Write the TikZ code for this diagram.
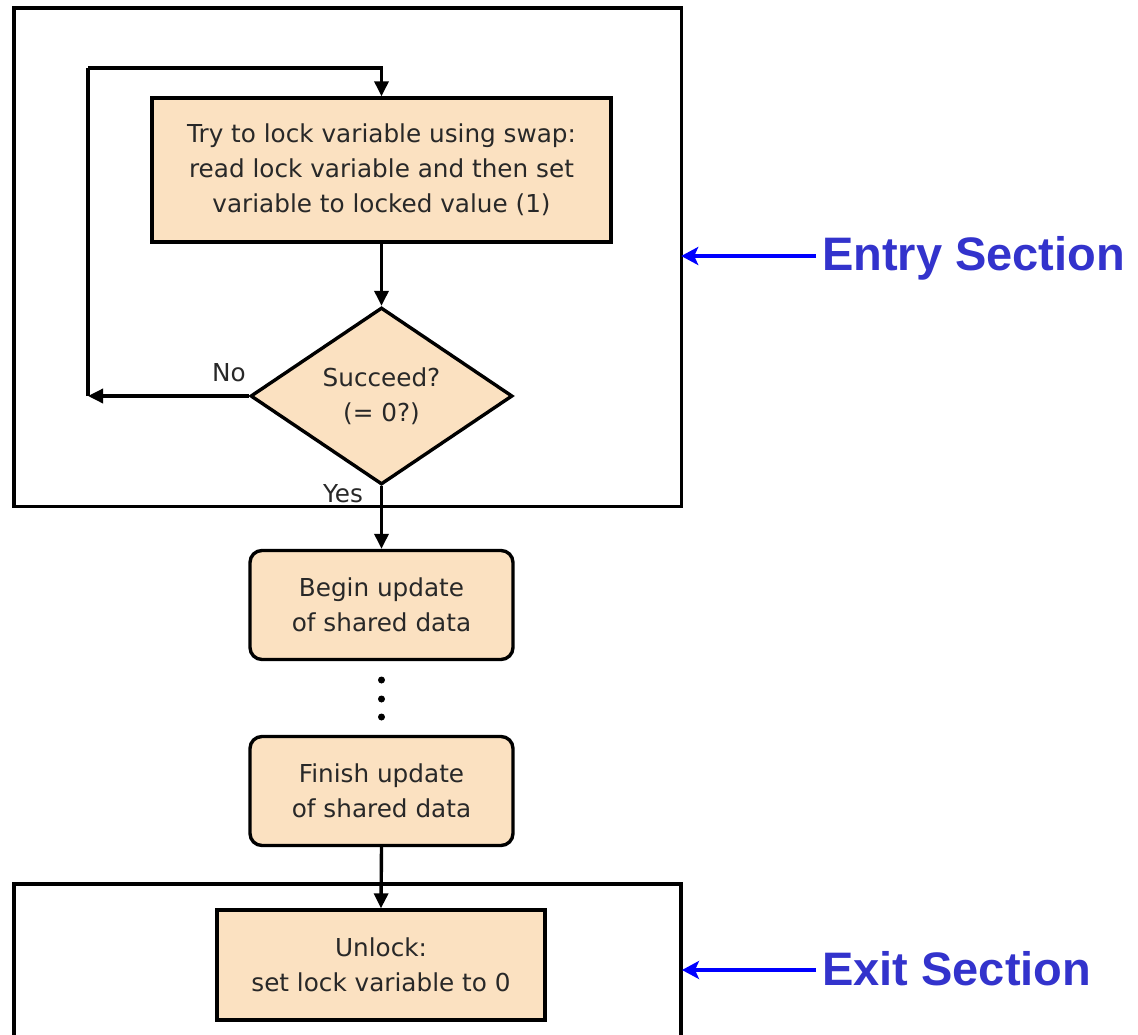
\documentclass[tikz,border=0pt]{standalone}
\usepackage{fontspec}
\setmainfont{DejaVu Sans}
\newfontfamily\labelfont{Liberation Sans}
\usetikzlibrary{shapes.geometric,arrows.meta}
\definecolor{peach}{RGB}{251,225,193}
\definecolor{labelblue}{RGB}{51,51,204}
\definecolor{arrowblue}{RGB}{0,0,255}
\definecolor{ink}{RGB}{40,40,40}
\tikzset{
  box/.style={draw=black, line width=3.4pt, fill=peach, text=ink, align=center,
    inner sep=0pt, font=\fontsize{24.7}{35}\selectfont},
  roundbox/.style={box, rounded corners=12pt},
  decision/.style={box, shape=diamond, aspect=1.5},
  frame/.style={draw=black, line width=3.4pt},
  flow/.style={draw=black, line width=3.4pt, -{Triangle[length=15pt,width=14pt]}},
  plain/.style={draw=black, line width=3.4pt},
  tag/.style={text=ink, inner sep=0pt, font=\fontsize{24.7}{30}\selectfont},
  section/.style={text=labelblue, inner sep=0pt, anchor=base west,
    font=\labelfont\bfseries\fontsize{47}{50}\selectfont},
  pointer/.style={draw=arrowblue, line width=4.5pt,
    -{Stealth[length=17pt,width=18pt,inset=4pt]}},
  dot/.style={circle, fill=black, inner sep=0pt, minimum size=7pt}
}
\begin{document}
\begin{tikzpicture}[x=1pt, y=-1pt]
\useasboundingbox (0,0) rectangle (1138,1034);
\clip (0,0) rectangle (1138,1034);

% entry section area (outline drawn later, over the branch label)
\node[minimum width=667pt, minimum height=498pt, inner sep=0pt] (entry) at (347.5,257) {};

% flowchart steps
\node[box, minimum width=459pt, minimum height=144pt] (try) at (381.5,170)
  {Try to lock variable using swap:\\read lock variable and then set\\variable to locked value (1)};
\node[decision, minimum width=262pt, minimum height=177pt] (dec) at (381.5,396)
  {Succeed?\\(= 0?)};
\node[roundbox, minimum width=263pt, minimum height=109pt] (begin) at (381.5,605)
  {Begin update\\of shared data};
\node[roundbox, minimum width=263pt, minimum height=109pt] (finish) at (381.5,791)
  {Finish update\\of shared data};
\node[box, minimum width=328pt, minimum height=110pt] (unlock) at (381,965)
  {Unlock:\\set lock variable to 0};

% elided steps
\node[dot] (d1) at (381.5,680) {};
\node[dot] (d2) at (381.5,699) {};
\node[dot] (d3) at (381.5,717) {};

% retry loop
\coordinate (loopL) at (88,396);
\coordinate (loopT) at (88,68);
\coordinate (loopR) at (381.5,68);
\draw[flow] (dec.west) -- (loopL);
\draw[plain] (loopL) -- (loopT);
\draw[flow] (loopT) -- (loopR) -- (try.north);

% main flow
\draw[flow] (try.south) -- (dec.north);
\draw[flow] (dec.south) -- (begin.north);
\draw[flow] (finish.south) -- (unlock.north);

% branch labels
\node[tag] (no) at (229,373) {No};
\node[tag] (yes) at (343,494) {Yes};

% entry section outline
\draw[frame] (entry.north west) rectangle (entry.south east);

% exit section frame, open at the bottom
\coordinate (xbl) at (14,1060);
\coordinate (xtl) at (14,884);
\coordinate (xtr) at (681,884);
\coordinate (xbr) at (681,1060);
\draw[frame] (xbl) -- (xtl) -- (xtr) -- (xbr);

% section labels
\node[section] (entrytxt) at (822,270) {Entry Section};
\node[section] (exittxt) at (822,985) {Exit Section};
\coordinate (entrytail) at (816,256);
\coordinate (exittail) at (816,970);
\coordinate (exitR) at (682,970);
\draw[pointer] (entrytail) -- (entry.east |- entrytail);
\draw[pointer] (exittail) -- (exitR);
\end{tikzpicture}
\end{document}
